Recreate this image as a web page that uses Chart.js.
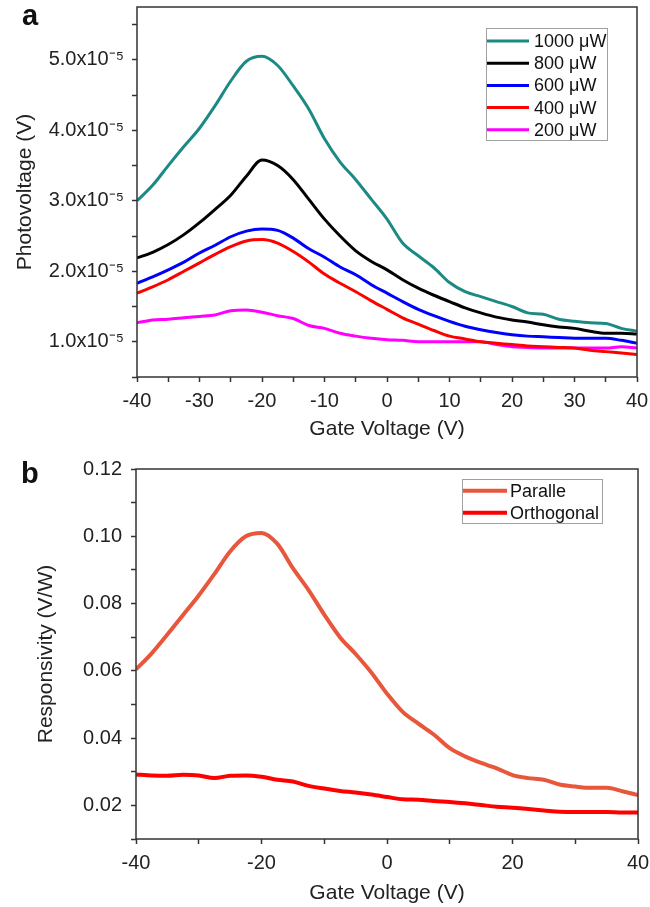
<!DOCTYPE html>
<html><head><meta charset="utf-8">
<script src="https://cdn.jsdelivr.net/npm/chart.js@4.4.0/dist/chart.umd.min.js"></script>
<style>
html,body{margin:0;padding:0;background:#fff;}
body{width:650px;height:907px;position:relative;overflow:hidden;font-family:"Liberation Sans",Arial,sans-serif;}
#c1{position:absolute;left:0;top:0;width:650px;height:450px;}
#c2{position:absolute;left:0;top:450px;width:650px;height:457px;}
.panel{position:absolute;font-weight:bold;font-size:29px;line-height:1;color:#111;font-family:"Liberation Sans",Arial,sans-serif;}
</style></head><body>
<canvas id="c1" width="650" height="450"></canvas>
<canvas id="c2" width="650" height="457"></canvas>
<div class="panel" style="left:22px;top:1px">a</div>
<div class="panel" style="left:21px;top:459px">b</div>
<script>
// ---- Data ----
const gateVoltage = [-40,-37.5,-35,-32.5,-30,-27.5,-25,-22.5,-20,-17.5,-15,-12.5,-10,-7.5,-5,-2.5,0,2.5,5,7.5,10,12.5,15,17.5,20,22.5,25,27.5,30,32.5,35,37.5,40];

// Panel a: photovoltage in units of 1e-5 V
const pv1000 = [3.00,3.22,3.50,3.77,4.03,4.35,4.70,4.98,5.05,4.92,4.63,4.30,3.88,3.55,3.30,3.02,2.74,2.40,2.22,2.05,1.84,1.71,1.64,1.57,1.50,1.41,1.39,1.32,1.29,1.27,1.26,1.19,1.15];
const pv800  = [2.19,2.27,2.38,2.52,2.69,2.88,3.08,3.35,3.58,3.50,3.30,3.02,2.74,2.50,2.29,2.14,2.02,1.88,1.76,1.66,1.57,1.48,1.41,1.35,1.31,1.28,1.24,1.21,1.19,1.15,1.12,1.12,1.11];
const pv600  = [1.83,1.92,2.02,2.13,2.26,2.37,2.49,2.57,2.60,2.58,2.47,2.32,2.20,2.06,1.95,1.81,1.69,1.57,1.46,1.37,1.29,1.22,1.17,1.13,1.10,1.08,1.07,1.06,1.05,1.05,1.05,1.02,0.98];
const pv400  = [1.69,1.78,1.88,2.00,2.12,2.24,2.35,2.43,2.45,2.40,2.28,2.13,1.96,1.83,1.71,1.58,1.46,1.34,1.25,1.16,1.08,1.04,1.00,0.98,0.96,0.94,0.93,0.92,0.91,0.88,0.86,0.84,0.82];
const pv200  = [1.27,1.31,1.32,1.34,1.36,1.38,1.44,1.45,1.42,1.37,1.33,1.23,1.19,1.12,1.08,1.05,1.03,1.02,1.00,1.00,1.00,1.00,1.00,0.96,0.93,0.92,0.91,0.91,0.91,0.91,0.91,0.93,0.91];
const seriesA = ['1000 \u03bcW','800 \u03bcW','600 \u03bcW','400 \u03bcW','200 \u03bcW'];

// Panel b: responsivity (V/W)
const respParallel   = [0.0604,0.0652,0.0708,0.0766,0.0824,0.0888,0.0955,0.1000,0.1010,0.0978,0.0905,0.0840,0.0767,0.0700,0.0650,0.0595,0.0532,0.0478,0.0443,0.0410,0.0370,0.0345,0.0326,0.0310,0.0290,0.0281,0.0276,0.0262,0.0256,0.0252,0.0252,0.0242,0.0231];
const respOrthogonal = [0.0292,0.0289,0.0288,0.0291,0.0289,0.0281,0.0288,0.0289,0.0285,0.0276,0.0271,0.0258,0.0250,0.0243,0.0238,0.0232,0.0225,0.0218,0.0217,0.0213,0.0210,0.0206,0.0201,0.0196,0.0193,0.0189,0.0185,0.0181,0.0180,0.0180,0.0180,0.0179,0.0179];
const seriesB = ['Paralle','Orthogonal'];

// Axis tick labels
const xTicksA = [-40,-30,-20,-10,0,10,20,30,40];
const yTicksA = [1.0,2.0,3.0,4.0,5.0];      // x 1e-5
const xTicksB = [-40,-20,0,20,40];
const yTicksB = [0.02,0.04,0.06,0.08,0.10,0.12];

// ---- Plugins ----
const framePlugin = {
  id:'frame',
  afterDatasetsDraw(chart, args, o){
    const {ctx, chartArea:{left,top,right,bottom}} = chart;
    ctx.save(); ctx.strokeStyle = o.color; ctx.lineWidth = o.width;
    ctx.strokeRect(left, top, right-left, bottom-top); ctx.restore();
  }
};
const boxLegend = {
  id:'boxLegend',
  afterDraw(chart, args, o){
    const ctx = chart.ctx, ca = chart.chartArea;
    const x0 = ca.right - o.right - o.width, y0 = ca.top + o.top;
    ctx.save();
    ctx.fillStyle = '#fff'; ctx.fillRect(x0, y0, o.width, o.height);
    ctx.strokeStyle = '#a0a0a0'; ctx.lineWidth = 1;
    ctx.strokeRect(x0+0.5, y0+0.5, o.width, o.height);
    ctx.font = o.font; ctx.textBaseline = 'middle'; ctx.textAlign = 'left';
    chart.data.datasets.forEach((ds,i)=>{
      const y = y0 + o.first + i*o.spacing;
      ctx.strokeStyle = ds.borderColor; ctx.lineWidth = o.lineWidth; ctx.lineCap='butt';
      ctx.beginPath(); ctx.moveTo(x0+1, y); ctx.lineTo(x0+o.lineLen, y); ctx.stroke();
      ctx.fillStyle = '#111'; ctx.fillText(ds.label, x0 + o.lineLen + o.gap, y+1);
    });
    ctx.restore();
  }
};

const FONT = '"Liberation Sans", Arial, sans-serif';
const AXC = '#333';

function xyData(arr, f){ return gateVoltage.map((x,i)=>({x:x, y:arr[i]*f})); }
function fixY(w){ return (s)=>{ s.width = w; s.paddingTop = 0; s.paddingBottom = 0; }; }
function fixX(h){ return (s)=>{ s.height = h; s.paddingLeft = 0; s.paddingRight = 0; }; }

// ---- Chart a ----
const colorsA = ['#1c8a84','#000000','#0000ff','#ff0000','#ff00ff'];
const dataA = [pv1000,pv800,pv600,pv400,pv200];
new Chart(document.getElementById('c1'), {
  type:'line',
  data:{ datasets: dataA.map((arr,i)=>({
    label: seriesA[i], data: xyData(arr,1e-5), borderColor: colorsA[i], backgroundColor: colorsA[i],
    borderWidth: 3, pointRadius: 0, cubicInterpolationMode:'monotone', fill:false
  }))},
  options:{
    responsive:false, animation:false, devicePixelRatio:1,
    layout:{padding:{left:0, top:7, right:13, bottom:0}},
    plugins:{ legend:{display:false}, tooltip:{enabled:false},
      frame:{color:AXC, width:1.5},
      boxLegend:{right:30, width:121, top:21, height:112, first:13, spacing:22.2, lineLen:43, gap:5, lineWidth:3, font:'18px '+FONT}
    },
    scales:{
      x:{ type:'linear', min:-40, max:40, bounds:'data',
        afterFit: fixX(73),
        border:{display:false},
        grid:{drawOnChartArea:false, drawTicks:true, tickLength:5, tickColor:AXC, tickWidth:1.5},
        ticks:{ stepSize:5, autoSkip:false, maxRotation:0, padding:7, color:'#222', font:{family:FONT, size:20},
          callback:(v)=> xTicksA.includes(v) ? String(v) : '' },
        title:{display:true, text:'Gate Voltage (V)', color:'#222', font:{family:FONT, size:21}, padding:{top:0, bottom:8}}
      },
      y:{ type:'linear', min:0.5e-5, max:5.75e-5, bounds:'data',
        afterFit: fixY(137),
        border:{display:false},
        grid:{drawOnChartArea:false, drawTicks:true, tickLength:5, tickColor:AXC, tickWidth:1.5},
        ticks:{ stepSize:0.5e-5, includeBounds:false, autoSkip:false, padding:8, color:'#222', font:{family:FONT, size:20},
          callback:(v)=>{ const n = Math.round(v/1e-6)/10; return yTicksA.includes(n) ? n.toFixed(1)+'x10\u207b\u2075' : ''; } },
        title:{display:true, text:'Photovoltage (V)', color:'#222', font:{family:FONT, size:21}, padding:{top:13, bottom:0}}
      }
    }
  },
  plugins:[framePlugin, boxLegend]
});

// ---- Chart b ----
const colorsB = ['#e8573c','#ff0000'];
const dataB = [respParallel, respOrthogonal];
new Chart(document.getElementById('c2'), {
  type:'line',
  data:{ datasets: dataB.map((arr,i)=>({
    label: seriesB[i], data: xyData(arr,1), borderColor: colorsB[i], backgroundColor: colorsB[i],
    borderWidth: 4, pointRadius: 0, cubicInterpolationMode:'monotone', fill:false
  }))},
  options:{
    responsive:false, animation:false, devicePixelRatio:1,
    layout:{padding:{left:0, top:19, right:12, bottom:0}},
    plugins:{ legend:{display:false}, tooltip:{enabled:false},
      frame:{color:AXC, width:1.5},
      boxLegend:{right:36, width:140, top:10, height:44, first:11.7, spacing:22, lineLen:45, gap:3, lineWidth:4, font:'18px '+FONT}
    },
    scales:{
      x:{ type:'linear', min:-40, max:40, bounds:'data',
        afterFit: fixX(68),
        border:{display:false},
        grid:{drawOnChartArea:false, drawTicks:true, tickLength:5, tickColor:AXC, tickWidth:1.5},
        ticks:{ stepSize:10, autoSkip:false, maxRotation:0, padding:7, color:'#222', font:{family:FONT, size:20},
          callback:(v)=> xTicksB.includes(v) ? String(v) : '' },
        title:{display:true, text:'Gate Voltage (V)', color:'#222', font:{family:FONT, size:21}, padding:{top:0, bottom:1}}
      },
      y:{ type:'linear', min:0.01, max:0.12, bounds:'data',
        afterFit: fixY(136),
        border:{display:false},
        grid:{drawOnChartArea:false, drawTicks:true, tickLength:5, tickColor:AXC, tickWidth:1.5},
        ticks:{ stepSize:0.01, includeBounds:false, autoSkip:false, padding:9, color:'#222', font:{family:FONT, size:20},
          callback:(v)=>{ const n = Math.round(v*100)/100; return yTicksB.includes(n) ? n.toFixed(2) : ''; } },
        title:{display:true, text:'Responsivity (V/W)', color:'#222', font:{family:FONT, size:21}, padding:{top:34, bottom:0}}
      }
    }
  },
  plugins:[framePlugin, boxLegend]
});
</script>
</body></html>
